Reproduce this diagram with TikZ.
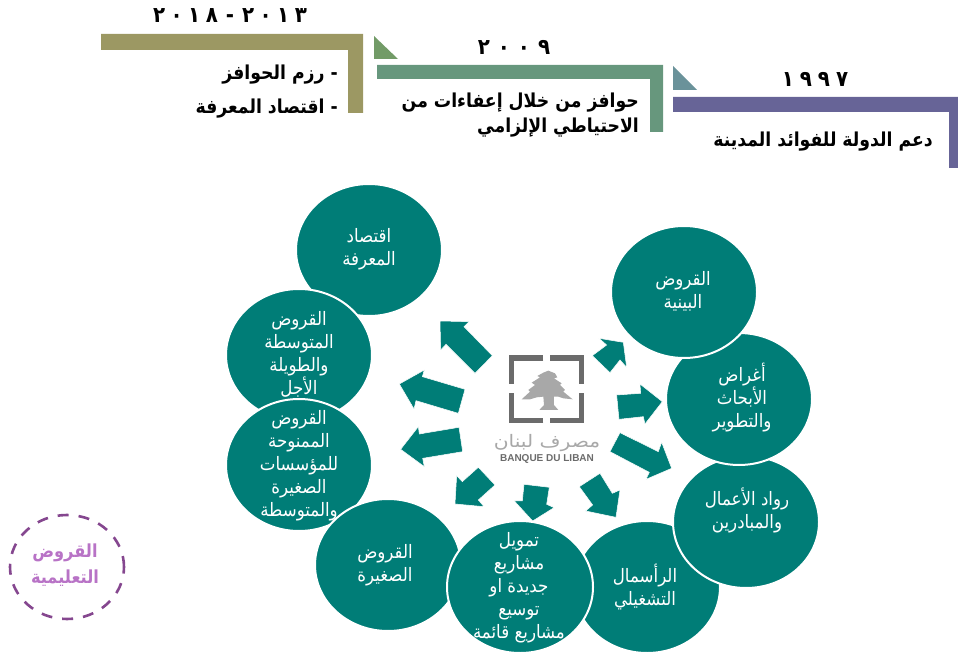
\documentclass[tikz,border=0pt]{standalone}
\usepackage{fontspec}
\usepackage{graphicx}
\usetikzlibrary{shapes.geometric}
\TeXXeTstate=1
\setmainfont{Liberation Sans}
\newfontfamily\arb[Script=Arabic]{DejaVu Sans Condensed}
\newcommand{\AR}[1]{\beginR #1\endR}
\definecolor{tealc}{HTML}{007D77}
\definecolor{olivec}{HTML}{9C9863}
\definecolor{greenc}{HTML}{67977D}
\definecolor{purplec}{HTML}{676497}
\definecolor{tria}{HTML}{729B67}
\definecolor{trib}{HTML}{6A929A}
\definecolor{dashc}{HTML}{85478F}
\definecolor{pinkc}{HTML}{B873C6}
\definecolor{logoa}{HTML}{6B6B6B}
\definecolor{logob}{HTML}{A8A8A8}
\tikzset{
  blob/.style={ellipse,fill=tealc,draw=white,line width=2pt,minimum width=146pt,minimum height=132pt,inner sep=0pt,outer sep=0pt},
  blobtext/.style={text=white,align=center,inner sep=0pt,font=\arb\fontsize{18.5}{23}\selectfont},
  head/.style={text=black,inner sep=0pt,font=\arb\bfseries\fontsize{19.2}{24}\selectfont},
  yeartext/.style={text=black,inner sep=0pt,font=\arb\bfseries\fontsize{22}{24}\selectfont},
  blockarrow/.style={fill=tealc,draw=white,line width=0.5pt,line join=miter},
  bracket/.style={draw=logoa,line width=5pt,line cap=butt,line join=miter}
}
\begin{document}
\begin{tikzpicture}[x=1pt,y=-1pt]
\useasboundingbox (0,0) rectangle (958,655);
% staircase
\fill[olivec] (101,34) -- (363,34) -- (363,113) -- (348,113) -- (348,50) -- (101,50) -- cycle;
\fill[tria] (374,36) -- (374,59) -- (398,59) -- cycle;
\fill[greenc] (377,65) -- (663,65) -- (663,132) -- (650,132) -- (650,79) -- (377,79) -- cycle;
\fill[trib] (673,66) -- (673,90) -- (697,90) -- cycle;
\fill[purplec] (673,97) -- (958,97) -- (958,168) -- (949,168) -- (949,112) -- (673,112) -- cycle;
\node[yeartext] (ya) at (230,16) {٢\hspace{5.5pt}٠\hspace{5.5pt}١\hspace{5.5pt}٨\hspace{8pt}-\hspace{8pt}٢\hspace{5.5pt}٠\hspace{5.5pt}١\hspace{5.5pt}٣};
\node[yeartext] (yb) at (514,47) {٢\hspace{8pt}٠\hspace{8pt}٠\hspace{8pt}٩};
\node[yeartext] (yc) at (815,79) {١\hspace{6pt}٩\hspace{6pt}٩\hspace{6pt}٧};
\node[head,anchor=east] (ha) at (338,75) {\AR{- رزم الحوافز}};
\node[head,anchor=east] (hb) at (338,109) {\AR{- اقتصاد المعرفة}};
\node[head,anchor=east] (hc) at (639,103) {\AR{حوافز من خلال إعفاءات من}};
\node[head,anchor=east] (hd) at (639,128) {\AR{الاحتياطي الإلزامي}};
\node[head,anchor=east] (he) at (933,142) {\AR{دعم الدولة للفوائد المدينة}};
% circles
\node[blob] (c1) at (369,250) {};
\node[blobtext] (t1) at (369,249) {\AR{اقتصاد}\\\AR{المعرفة}};
\node[blob] (c2) at (299,355) {};
\node[blobtext] (t2) at (299,354) {\AR{القروض}\\\AR{المتوسطة}\\\AR{والطويلة}\\\AR{الأجل}};
\node[blob] (c3) at (299,465) {};
\node[blobtext] (t3) at (299,466) {\AR{القروض}\\\AR{الممنوحة}\\\AR{للمؤسسات}\\\AR{الصغيرة}\\\AR{والمتوسطة}};
\node[blob] (c4) at (388,565) {};
\node[blobtext] (t4) at (385,565) {\AR{القروض}\\\AR{الصغيرة}};
\node[blob] (c6) at (647,587) {};
\node[blobtext] (t6) at (645,587) {\AR{الرأسمال}\\\AR{التشغيلي}};
\node[blob] (c5) at (520,587) {};
\node[blobtext] (t5) at (519,588) {\AR{تمويل}\\\AR{مشاريع}\\\AR{جديدة او}\\\AR{توسيع}\\\AR{مشاريع قائمة}};
\node[blob] (c7) at (746,522) {};
\node[blobtext] (t7) at (747,510) {\AR{رواد الأعمال}\\\AR{والمبادرين}};
\node[blob] (c8) at (739,399) {};
\node[blobtext] (t8) at (742,398) {\AR{أغراض}\\\AR{الأبحاث}\\\AR{والتطوير}};
\node[blob] (c9) at (684,292) {};
\node[blobtext] (t9) at (683,291) {\AR{القروض}\\\AR{البينية}};
% block arrows
\begin{scope}[shift={(390pt,-310pt)},x=0.3333pt,y=-0.3333pt]
\path[blockarrow] (150,33) -- (237,35) -- (222,50) -- (307,137) -- (255,190) -- (168,103) -- (152,120) -- cycle;
\path[blockarrow] (28,222) -- (103,180) -- (97,200) -- (225,238) -- (205,310) -- (78,272) -- (72,297) -- cycle;
\path[blockarrow] (32,418) -- (85,350) -- (88,372) -- (207,352) -- (218,425) -- (98,445) -- (103,470) -- cycle;
\path[blockarrow] (195,582) -- (200,497) -- (217,515) -- (265,472) -- (315,525) -- (265,570) -- (282,590) -- cycle;
\path[blockarrow] (428,633) -- (373,573) -- (397,573) -- (402,523) -- (478,532) -- (470,583) -- (492,593) -- cycle;
\path[blockarrow] (678,622) -- (587,603) -- (608,585) -- (568,530) -- (630,490) -- (667,550) -- (690,540) -- cycle;
\path[blockarrow] (845,475) -- (768,508) -- (778,487) -- (660,425) -- (690,368) -- (805,425) -- (815,397) -- cycle;
\path[blockarrow] (817,275) -- (750,222) -- (752,250) -- (680,255) -- (687,328) -- (760,320) -- (765,342) -- cycle;
\path[blockarrow] (700,97) -- (710,172) -- (690,150) -- (660,188) -- (607,137) -- (650,105) -- (627,85) -- cycle;
\end{scope}
% logo
\begin{scope}[shift={(480pt,-340pt)},x=0.3333pt,y=-0.3333pt]
\draw[bracket] (190,54) -- (94,54) -- (94,133);
\draw[bracket] (210,54) -- (305,54) -- (305,133);
\draw[bracket] (190,243) -- (94,243) -- (94,160);
\draw[bracket] (210,243) -- (305,243) -- (305,160);
\fill[logob] (205,92) -- (225,100) -- (232,112) -- (222,115) -- (245,130) -- (240,135) -- (255,150) -- (250,155) -- (278,178) -- (250,175) -- (235,170) -- (222,170) -- (222,195) -- (235,210) -- (178,210) -- (192,195) -- (190,170) -- (170,172) -- (150,178) -- (125,178) -- (150,155) -- (145,150) -- (165,135) -- (155,128) -- (180,112) -- (172,108) -- (190,98) -- cycle;
\end{scope}
\node[text=logob,inner sep=0pt] (la) at (547,443) {\scalebox{1.5}[1.15]{\arb\fontsize{15}{18}\selectfont\AR{مصرف لبنان}}};
\node[text=logoa,inner sep=0pt,font=\bfseries\fontsize{10}{11}\selectfont] (lb) at (547,459) {BANQUE DU LIBAN};
% dashed
\node[ellipse,draw=dashc,line width=2.6pt,dash pattern=on 11pt off 10pt,minimum width=114pt,minimum height=104pt,inner sep=0pt] (d) at (67,567) {};
\node[text=pinkc,align=center,inner sep=0pt,font=\arb\bfseries\fontsize{18}{26}\selectfont] (dt) at (65,565) {\AR{القروض}\\\AR{التعليمية}};
\end{tikzpicture}
\end{document}
